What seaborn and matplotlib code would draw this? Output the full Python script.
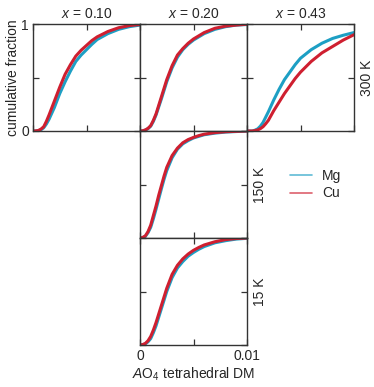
import matplotlib
matplotlib.use('Agg')
import matplotlib.pyplot as plt
from matplotlib.lines import Line2D
import numpy as np
import pandas as pd
import seaborn as sns

# distortion-measure grid (x axis, units of 1e-3)
dm = np.array([0, 0.25, 0.5, 0.75, 1, 1.25, 1.5, 1.75, 2, 2.25, 2.5,
               3, 3.5, 4, 4.5, 5, 5.5, 6, 7, 8, 9, 10]) * 1e-3

# cumulative fractions, x = 0.10 / 0.20 / 0.43 at 300 K
mg_010_300 = [0, .0005, .003, .012, .03, .065, .11, .165, .22, .285, .35,
              .46, .56, .65, .71, .76, .81, .855, .91, .95, .975, .99]
cu_010_300 = [0, .001, .005, .018, .04, .09, .15, .215, .28, .345, .41,
              .53, .62, .70, .755, .80, .845, .88, .93, .965, .985, .995]
mg_020_300 = [0, .0015, .008, .022, .045, .09, .15, .225, .30, .38, .46,
              .59, .69, .76, .81, .85, .88, .91, .95, .975, .99, .995]
cu_020_300 = [0, .002, .01, .025, .05, .10, .16, .24, .32, .40, .48,
              .61, .71, .77, .82, .86, .89, .92, .96, .98, .99, .998]
mg_043_300 = [0, 0, 0, .008, .02, .045, .08, .13, .18, .235, .29,
              .39, .48, .55, .62, .68, .72, .76, .82, .865, .895, .92]
cu_043_300 = [0, 0, 0, .004, .01, .022, .04, .068, .10, .145, .19,
              .27, .35, .42, .49, .55, .60, .65, .73, .79, .85, .90]
# x = 0.20 at lower temperatures
mg_020_150 = [0, .004, .015, .05, .10, .18, .27, .365, .46, .55, .63,
              .75, .83, .88, .91, .935, .95, .965, .98, .99, .995, .999]
cu_020_150 = [0, .005, .02, .06, .12, .21, .30, .40, .49, .58, .66,
              .77, .84, .89, .92, .94, .957, .97, .985, .993, .997, 1.0]
mg_020_15 = [0, .003, .01, .03, .06, .115, .18, .26, .34, .42, .50,
             .63, .72, .78, .83, .865, .895, .92, .955, .975, .99, .997]
cu_020_15 = [0, .004, .015, .04, .08, .14, .21, .29, .37, .45, .53,
             .66, .745, .805, .85, .885, .912, .935, .965, .985, .995, 1.0]

titles = ['$x$ = 0.10', '$x$ = 0.20', '$x$ = 0.43']
temps = ['300 K', '150 K', '15 K']
ions = ['Mg', 'Cu']
palette = {'Mg': '#1d9fc4', 'Cu': '#cf1f30'}

panels = [
    (mg_010_300, cu_010_300), (mg_020_300, cu_020_300), (mg_043_300, cu_043_300),
    (mg_020_150, cu_020_150), (mg_020_15, cu_020_15),
]

sns.set_style('ticks')
plt.rcParams['font.family'] = ['Liberation Sans', 'DejaVu Sans']
plt.rcParams['mathtext.fontset'] = 'custom'
plt.rcParams['mathtext.rm'] = 'Liberation Sans'
plt.rcParams['mathtext.it'] = 'Liberation Sans:italic'
plt.rcParams['font.size'] = 10

W, H = 374, 387
fig = plt.figure(figsize=(W / 100, H / 100), dpi=100)

# panel boxes in pixels: (left, top)
boxes = [(33, 24), (140, 24), (247, 24), (140, 131), (140, 238)]
size = 107

axes = []
for (lx, ty), (mg, cu) in zip(boxes, panels):
    ax = fig.add_axes([lx / W, (H - ty - size) / H, size / W, size / H])
    df = pd.DataFrame({'dm': np.concatenate([dm, dm]),
                       'frac': np.concatenate([mg, cu]),
                       'ion': ['Mg'] * len(dm) + ['Cu'] * len(dm)})
    sns.lineplot(data=df, x='dm', y='frac', hue='ion', hue_order=ions,
                 palette=palette, estimator=None, legend=False, lw=2.2, ax=ax)
    ax.set_xlim(0, 0.01)
    ax.set_ylim(0, 1)
    ax.set_xticks([0, 0.005, 0.01])
    ax.set_yticks([0, 0.5, 1])
    ax.set_xticklabels([])
    ax.set_yticklabels([])
    ax.set_xlabel('')
    ax.set_ylabel('')
    ax.tick_params(direction='in', top=True, right=True, length=4, width=0.9,
                   color='#333333', pad=3)
    for s in ax.spines.values():
        s.set_color('#333333')
        s.set_linewidth(1.0)
    axes.append(ax)

for ax, t in zip(axes[:3], titles):
    ax.set_title(t, pad=4, fontsize=10)

axes[0].set_yticklabels(['0', '', '1'])
axes[0].set_ylabel('cumulative fraction', labelpad=1)
axes[4].set_xticklabels(['0', '', '0.01'])
axes[4].set_xlabel('$A$O$_4$ tetrahedral DM', labelpad=2)

for ax, t in zip([axes[2], axes[3], axes[4]], temps):
    ax.text(1.055, 0.5, t, rotation=90, transform=ax.transAxes,
            ha='left', va='center', fontsize=10)

handles = [Line2D([], [], color=palette[i], lw=1.2, alpha=0.7) for i in ions]
fig.legend(handles, ions, loc='upper left', bbox_to_anchor=(290 / W, (H - 169) / H),
           frameon=False, borderpad=0, borderaxespad=0, handlelength=1.6,
           handletextpad=0.7, labelspacing=0.25, fontsize=10)

fig.savefig('out.png', dpi=100)
